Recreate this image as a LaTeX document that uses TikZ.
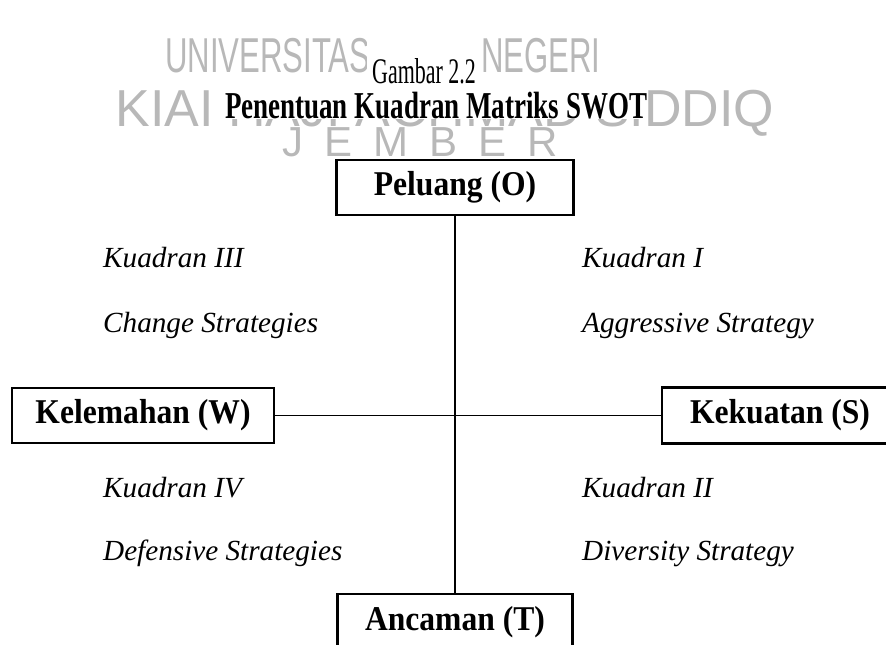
\documentclass[tikz,border=0pt]{standalone}
\usepackage{fontspec}
\setmainfont{Liberation Serif}
\newfontfamily\wmfont{Liberation Sans}
\usetikzlibrary{positioning}
\newcommand{\tallbold}[1]{\scalebox{1}[1.1]{#1}}

\begin{document}
\begin{tikzpicture}[x=1pt, y=-1pt,
    swotbox/.style={draw, line width=2.2pt, inner sep=0pt, font=\fontsize{31.6}{36}\selectfont\bfseries},
    quadtext/.style={anchor=base west, inner sep=0pt, font=\fontsize{29.2}{34}\selectfont\itshape},
    wmark/.style={anchor=base, inner sep=0pt, text=black!28}]
    \useasboundingbox (0,0) rectangle (886,645);
    \clip (0,0) rectangle (886,645);

    % Watermark
    \node[wmark, anchor=base west, font=\wmfont\fontsize{49}{52}\selectfont] (wm1) at (165,72) {\scalebox{0.635}[1]{UNIVERSITAS ISLAM NEGERI}};
    \node[wmark, font=\wmfont\fontsize{52}{56}\selectfont] (wm2) at (445,126) {KIAI HAJI ACHMAD SIDDIQ};
    \node[wmark, anchor=base west, font=\wmfont\fontsize{42}{46}\selectfont] (wm3) at (282,156) {J\hspace{21pt}E\hspace{21pt}M\hspace{21pt}B\hspace{21pt}E\hspace{21pt}R};

    % Title
    \node[anchor=base, fill=white, inner xsep=5pt, inner ysep=0pt, text height=50pt, font=\fontsize{36}{40}\selectfont] (gambar) at (424,83) {\scalebox{0.61}[1]{Gambar 2.2}};
    \node[anchor=base, fill=white, inner xsep=1pt, inner ysep=0pt, text height=30pt, font=\fontsize{38}{42}\selectfont\bfseries] (judul) at (436,118) {\scalebox{0.71}[1]{Penentuan Kuadran Matriks SWOT}};

    % Nodes
    \node[swotbox, minimum width=237pt, minimum height=55pt] (peluang) at (455,187.5) {\tallbold{Peluang (O)}};
    \node[swotbox, minimum width=262pt, minimum height=55pt] (lemah) at (143,415.5) {\tallbold{Kelemahan (W)}};
    \node[swotbox, minimum width=236pt, minimum height=56pt] (kuat) at (780,415.5) {\tallbold{Kekuatan (S)}};
    \node[swotbox, minimum width=235pt, minimum height=56pt] (ancam) at (455,622) {\tallbold{Ancaman (T)}};

    % Quadrants
    \node[quadtext] (kuadran3) at (103,267) {Kuadran III};
    \node[quadtext] (strat3) at (103,332) {Change Strategies};
    \node[quadtext] (kuadran1) at (582,267) {Kuadran I};
    \node[quadtext] (strat1) at (582,332) {Aggressive Strategy};
    \node[quadtext] (kuadran4) at (103,497) {Kuadran IV};
    \node[quadtext] (strat4) at (103,560) {Defensive Strategies};
    \node[quadtext] (kuadran2) at (582,497) {Kuadran II};
    \node[quadtext] (strat2) at (582,560) {Diversity Strategy};

    % Lines
    \draw[line width=1.8pt] (peluang) -- (ancam);
    \draw[line width=1.8pt] (lemah) -- (kuat);

\end{tikzpicture}
\end{document}
